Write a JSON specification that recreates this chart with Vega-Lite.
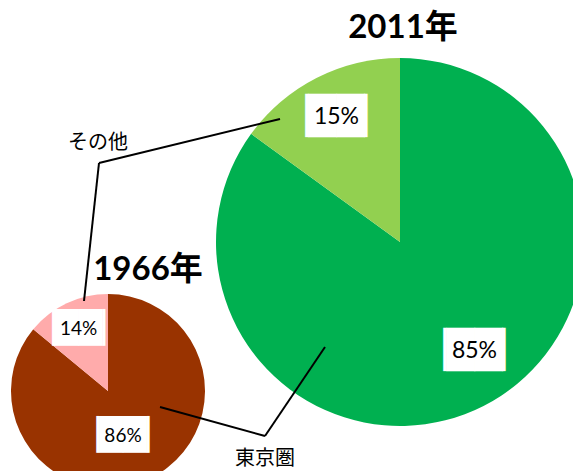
{
  "$schema": "https://vega.github.io/schema/vega-lite/v6.json",
  "width": 573,
  "height": 471,
  "padding": 0,
  "autosize": {"type": "none"},
  "background": "white",
  "config": {"view": {"stroke": null}},
  "datasets": {
    "shares": [
      {"year": 1966, "area": "東京圏", "share": 0.86},
      {"year": 1966, "area": "その他", "share": 0.14},
      {"year": 2011, "area": "東京圏", "share": 0.85},
      {"year": 2011, "area": "その他", "share": 0.15}
    ]
  },
  "data": {"name": "shares"},
  "resolve": {"scale": {"x": "independent", "y": "independent", "theta": "independent", "color": "independent"}},
  "layer": [
    {
      "transform": [{"filter": "datum.year === 1966"}],
      "encoding": {
        "x": {"field": "year", "type": "quantitative", "scale": {"domain": [1966, 2011], "range": [108, 400], "nice": false, "zero": false}, "axis": null},
        "y": {"field": "year", "type": "quantitative", "scale": {"domain": [1966, 2011], "range": [391, 242], "nice": false, "zero": false}, "axis": null}
      },
      "layer": [
        {
          "mark": {"type": "arc", "outerRadius": 97},
          "encoding": {
            "theta": {"field": "share", "type": "quantitative", "stack": true},
            "order": {"field": "area", "sort": "descending"},
            "color": {"field": "area", "type": "nominal", "scale": {"domain": ["東京圏", "その他"], "range": ["#993300", "#FFABAB"]}, "legend": null}
          }
        },
        {
          "mark": {"type": "text", "text": "▕██▏", "font": "DejaVu Sans", "fontSize": 31, "fill": "white", "align": "center", "baseline": "middle", "radius": 69},
          "encoding": {
            "theta": {"field": "share", "type": "quantitative", "stack": true},
            "order": {"field": "area", "sort": "descending"},
            "opacity": {"condition": {"test": "datum.area === 'その他'", "value": 1}, "value": 0}
          }
        },
        {
          "mark": {"type": "text", "text": "▕██▏", "font": "DejaVu Sans", "fontSize": 31, "fill": "white", "align": "center", "baseline": "middle", "radius": 47, "dx": -5, "dy": 2},
          "encoding": {
            "theta": {"field": "share", "type": "quantitative", "stack": true},
            "order": {"field": "area", "sort": "descending"},
            "opacity": {"condition": {"test": "datum.area === '東京圏'", "value": 1}, "value": 0}
          }
        },
        {
          "mark": {"type": "text", "font": "Lato", "fontSize": 19, "fill": "black", "align": "center", "baseline": "middle", "radius": 69},
          "encoding": {
            "theta": {"field": "share", "type": "quantitative", "stack": true},
            "order": {"field": "area", "sort": "descending"},
            "text": {"field": "share", "type": "quantitative", "format": ".0%"},
            "opacity": {"condition": {"test": "datum.area === 'その他'", "value": 1}, "value": 0}
          }
        },
        {
          "mark": {"type": "text", "font": "Lato", "fontSize": 19, "fill": "black", "align": "center", "baseline": "middle", "radius": 47, "dx": -5, "dy": 2},
          "encoding": {
            "theta": {"field": "share", "type": "quantitative", "stack": true},
            "order": {"field": "area", "sort": "descending"},
            "text": {"field": "share", "type": "quantitative", "format": ".0%"},
            "opacity": {"condition": {"test": "datum.area === '東京圏'", "value": 1}, "value": 0}
          }
        },
        {
          "transform": [{"filter": "datum.area === '東京圏'"}],
          "mark": {"type": "text", "text": "1966年", "font": "Lato, 'Noto Sans CJK JP'", "fontSize": 33, "fontWeight": "bold", "fill": "black", "align": "center", "baseline": "middle", "dx": 40, "dy": -121}
        }
      ]
    },
    {
      "transform": [{"filter": "datum.year === 2011"}],
      "encoding": {
        "x": {"field": "year", "type": "quantitative", "scale": {"domain": [1966, 2011], "range": [108, 400], "nice": false, "zero": false}, "axis": null},
        "y": {"field": "year", "type": "quantitative", "scale": {"domain": [1966, 2011], "range": [391, 242], "nice": false, "zero": false}, "axis": null}
      },
      "layer": [
        {
          "mark": {"type": "arc", "outerRadius": 184},
          "encoding": {
            "theta": {"field": "share", "type": "quantitative", "stack": true},
            "order": {"field": "area", "sort": "descending"},
            "color": {"field": "area", "type": "nominal", "scale": {"domain": ["東京圏", "その他"], "range": ["#00B050", "#92D050"]}, "legend": null}
          }
        },
        {
          "mark": {"type": "text", "text": "▕██▏", "font": "DejaVu Sans", "fontSize": 36.5, "fill": "white", "align": "center", "baseline": "middle", "radius": 140},
          "encoding": {
            "theta": {"field": "share", "type": "quantitative", "stack": true},
            "order": {"field": "area", "sort": "descending"},
            "opacity": {"condition": {"test": "datum.area === 'その他'", "value": 1}, "value": 0}
          }
        },
        {
          "mark": {"type": "text", "text": "▕██▏", "font": "DejaVu Sans", "fontSize": 36.5, "fill": "white", "align": "center", "baseline": "middle", "radius": 131, "dx": 15, "dy": -8},
          "encoding": {
            "theta": {"field": "share", "type": "quantitative", "stack": true},
            "order": {"field": "area", "sort": "descending"},
            "opacity": {"condition": {"test": "datum.area === '東京圏'", "value": 1}, "value": 0}
          }
        },
        {
          "mark": {"type": "text", "font": "Lato", "fontSize": 23, "fill": "black", "align": "center", "baseline": "middle", "radius": 140},
          "encoding": {
            "theta": {"field": "share", "type": "quantitative", "stack": true},
            "order": {"field": "area", "sort": "descending"},
            "text": {"field": "share", "type": "quantitative", "format": ".0%"},
            "opacity": {"condition": {"test": "datum.area === 'その他'", "value": 1}, "value": 0}
          }
        },
        {
          "mark": {"type": "text", "font": "Lato", "fontSize": 23, "fill": "black", "align": "center", "baseline": "middle", "radius": 131, "dx": 15, "dy": -8},
          "encoding": {
            "theta": {"field": "share", "type": "quantitative", "stack": true},
            "order": {"field": "area", "sort": "descending"},
            "text": {"field": "share", "type": "quantitative", "format": ".0%"},
            "opacity": {"condition": {"test": "datum.area === '東京圏'", "value": 1}, "value": 0}
          }
        },
        {
          "transform": [{"filter": "datum.area === '東京圏'"}],
          "mark": {"type": "text", "text": "2011年", "font": "Lato, 'Noto Sans CJK JP'", "fontSize": 33, "fontWeight": "bold", "fill": "black", "align": "center", "baseline": "middle", "dx": 3, "dy": -214}
        }
      ]
    },
    {
      "data": {"values": [{}]},
      "layer": [
        {
          "mark": {"type": "rule", "stroke": "black", "strokeWidth": 2},
          "encoding": {
            "x": {"datum": 280, "type": "quantitative", "scale": {"domain": [0, 573], "range": [0, 573], "nice": false, "zero": false}, "axis": null},
            "y": {"datum": 119, "type": "quantitative", "scale": {"domain": [0, 471], "range": [0, 471], "nice": false, "zero": false}, "axis": null},
            "x2": {"datum": 99},
            "y2": {"datum": 163}
          }
        },
        {
          "mark": {"type": "rule", "stroke": "black", "strokeWidth": 2},
          "encoding": {
            "x": {"datum": 99, "type": "quantitative"},
            "y": {"datum": 163, "type": "quantitative"},
            "x2": {"datum": 84},
            "y2": {"datum": 301}
          }
        },
        {
          "mark": {"type": "rule", "stroke": "black", "strokeWidth": 2},
          "encoding": {
            "x": {"datum": 160, "type": "quantitative"},
            "y": {"datum": 407, "type": "quantitative"},
            "x2": {"datum": 265},
            "y2": {"datum": 436}
          }
        },
        {
          "mark": {"type": "rule", "stroke": "black", "strokeWidth": 2},
          "encoding": {
            "x": {"datum": 265, "type": "quantitative"},
            "y": {"datum": 436, "type": "quantitative"},
            "x2": {"datum": 325},
            "y2": {"datum": 347}
          }
        },
        {
          "mark": {"type": "text", "text": "その他", "font": "Noto Sans CJK JP", "fontSize": 20, "fill": "black", "align": "center", "baseline": "middle"},
          "encoding": {
            "x": {"datum": 98, "type": "quantitative"},
            "y": {"datum": 143, "type": "quantitative"}
          }
        },
        {
          "mark": {"type": "text", "text": "東京圏", "font": "Noto Sans CJK JP", "fontSize": 20, "fill": "black", "align": "center", "baseline": "middle"},
          "encoding": {
            "x": {"datum": 265, "type": "quantitative"},
            "y": {"datum": 459, "type": "quantitative"}
          }
        }
      ]
    }
  ]
}
